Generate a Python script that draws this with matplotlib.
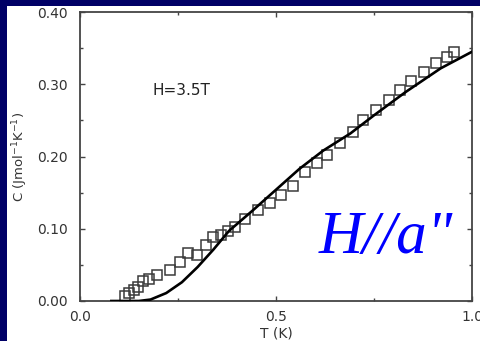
import matplotlib
matplotlib.use("Agg")
import matplotlib.pyplot as plt
from matplotlib.patches import Rectangle
from matplotlib.ticker import MultipleLocator

# Measured specific heat (open squares)
T_data = [0.115, 0.126, 0.139, 0.149, 0.161, 0.177, 0.197, 0.230, 0.255, 0.276,
          0.299, 0.321, 0.340, 0.360, 0.377, 0.395, 0.421, 0.455, 0.485, 0.513,
          0.543, 0.574, 0.604, 0.631, 0.663, 0.696, 0.723, 0.755, 0.787, 0.816,
          0.844, 0.878, 0.907, 0.935, 0.954]
C_data = [0.007, 0.011, 0.015, 0.020, 0.027, 0.031, 0.036, 0.043, 0.054, 0.066,
          0.064, 0.078, 0.089, 0.091, 0.097, 0.103, 0.113, 0.126, 0.135, 0.147,
          0.159, 0.178, 0.191, 0.202, 0.218, 0.234, 0.251, 0.264, 0.278, 0.292,
          0.304, 0.317, 0.330, 0.338, 0.345]

# Model curve (solid line)
T_fit = [0.08, 0.15, 0.18, 0.22, 0.26, 0.30, 0.34, 0.38, 0.44, 0.50, 0.56,
         0.62, 0.69, 0.75, 0.83, 0.92, 1.00]
C_fit = [0.000, 0.000, 0.002, 0.011, 0.026, 0.047, 0.071, 0.097, 0.125, 0.154,
         0.183, 0.208, 0.232, 0.257, 0.289, 0.322, 0.345]

x_ticks = [0.0, 0.5, 1.0]
x_tick_labels = ["0.0", "0.5", "1.0"]
y_ticks = [0.00, 0.10, 0.20, 0.30, 0.40]
y_tick_labels = ["0.00", "0.10", "0.20", "0.30", "0.40"]

W, H = 480, 341
fig = plt.figure(figsize=(W / 100, H / 100), dpi=100)
fig.patch.set_facecolor("#000066")
fig.patches.append(Rectangle((7 / W, 0), 1, (H - 6) / H, transform=fig.transFigure,
                             facecolor="white", edgecolor="none", zorder=-5))

ax = fig.add_axes([80 / W, (H - 301) / H, (472 - 80) / W, (301 - 12) / H])
ax.set_zorder(1)
ax.set_facecolor("white")
ax.set_xlim(0, 1.0)
ax.set_ylim(0, 0.40)

ax.plot(T_fit, C_fit, color="black", lw=1.9, zorder=3)
ax.plot(T_data, C_data, linestyle="none", marker="s", markersize=7.2,
        markerfacecolor="none", markeredgecolor="#3a3a3a", markeredgewidth=1.1, zorder=2)

ax.set_xticks(x_ticks)
ax.set_xticklabels(x_tick_labels)
ax.set_yticks(y_ticks)
ax.set_yticklabels(y_tick_labels)
ax.xaxis.set_minor_locator(MultipleLocator(0.25))
ax.yaxis.set_minor_locator(MultipleLocator(0.05))
ax.tick_params(which="both", direction="in", top=True, right=True,
               colors="#444444", labelcolor="#333333", labelsize=10, width=1.0)
ax.tick_params(which="major", length=3.5)
ax.tick_params(which="minor", length=2.5)
ax.tick_params(axis="x", pad=6.5)
ax.tick_params(axis="y", pad=8.8)
for s in ax.spines.values():
    s.set_color("#444444")
    s.set_linewidth(1.3)

ax.set_xlabel("T (K)", fontsize=10, color="#333333", labelpad=2)
ax.set_ylabel("C (Jmol$^{-1}$K$^{-1}$)", fontsize=9.5, color="#333333", labelpad=5)

ax.text(0.184, 0.291, "H=3.5T", fontsize=11, color="#222222", ha="left", va="center")
ax.text(0.61, 0.067, 'H//a"', fontsize=44, color="#0000ff", family="Liberation Serif",
        style="italic", ha="left", va="baseline")

fig.savefig("out.png", dpi=100, facecolor=fig.get_facecolor())
